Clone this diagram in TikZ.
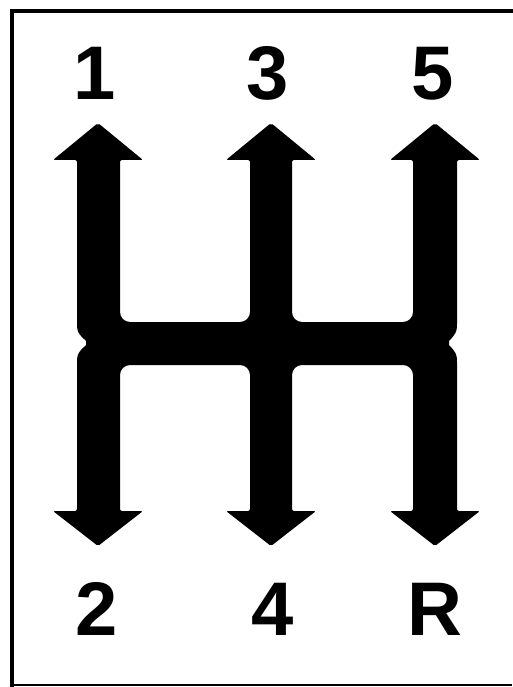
\documentclass[tikz,border=0pt]{standalone}
\usepackage{fontspec}
\setmainfont{Liberation Sans}
\begin{document}
\begin{tikzpicture}[x=1pt,y=-1pt,
  lbl/.style={font=\bfseries\fontsize{76}{76}\selectfont, inner sep=0pt, anchor=base},
  frameline/.style={line width=4pt, line cap=rect}]
\useasboundingbox (0,0) rectangle (512,687);
\fill[white] (0,0) rectangle (512,687);
% frame (open to the right)
\draw[frameline] (512,11.5) -- (12,11.5) -- (12,685);
\draw[line width=2.5pt] (12,685) -- (512,685);
% shift pattern
\fill[black, rounded corners=2pt]
  (98,123) -- (143,160) -- (120,160)
  [rounded corners=10pt] -- (120,322) -- (250,322) [rounded corners=2pt] -- (250,160)
  -- (226,160) -- (271,123) -- (316,160) -- (292,160)
  [rounded corners=10pt] -- (292,322) -- (413,322) [rounded corners=2pt] -- (413,160)
  -- (390,160) -- (435,123) -- (480,160) -- (457,160)
  -- (457,326) .. controls (456,336) and (449,340) .. (449,343)
  .. controls (449,346) and (456,350) .. (457,360)
  -- (457,511) -- (480,511) -- (435,546) -- (390,511) -- (413,511)
  [rounded corners=10pt] -- (413,365) -- (292,365) [rounded corners=2pt] -- (292,511)
  -- (316,511) -- (271,546) -- (226,511) -- (250,511)
  [rounded corners=10pt] -- (250,365) -- (120,365) [rounded corners=2pt] -- (120,511)
  -- (143,511) -- (98,546) -- (53,511) -- (77,511)
  -- (77,360) .. controls (78,350) and (86,346) .. (86,343)
  .. controls (86,340) and (78,336) .. (77,326)
  -- (77,160) -- (53,160) -- cycle;
% labels
\node[lbl] (g1) at (95,100) {1};
\node[lbl] (g3) at (268,100) {3};
\node[lbl] (g5) at (433,100) {5};
\node[lbl] (g2) at (97,635) {2};
\node[lbl] (g4) at (273,635) {4};
\node[lbl] (gR) at (435,635) {R};
\end{tikzpicture}
\end{document}
